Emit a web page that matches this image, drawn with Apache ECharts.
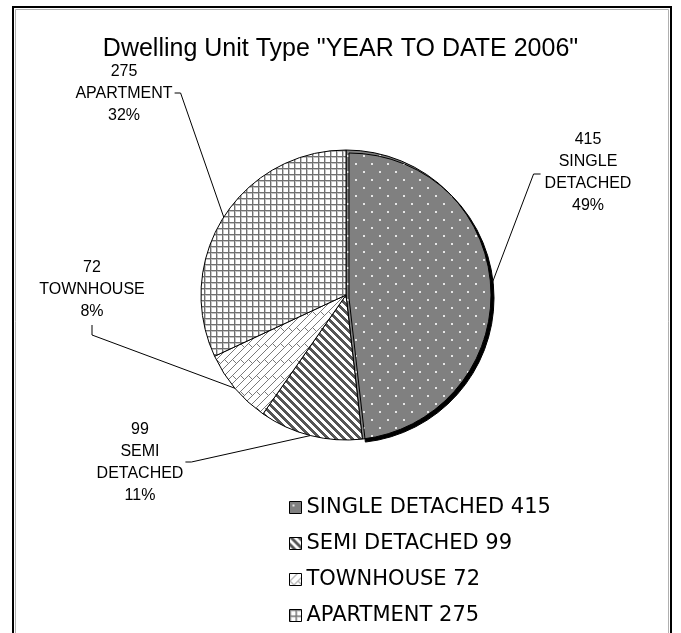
<!doctype html>
<html>
<head>
<meta charset="utf-8">
<title>Dwelling Unit Type</title>
<script src="https://cdn.jsdelivr.net/npm/echarts@6/dist/echarts.min.js"></script>
<style>
html,body{margin:0;padding:0;background:#fff;}
#chart{width:681px;height:633px;}
</style>
</head>
<body>
<div id="chart"></div>
<script type="text/javascript">
// data
var unitTypes = ['SINGLE DETACHED', 'SEMI DETACHED', 'TOWNHOUSE', 'APARTMENT'];
var unitCounts = [415, 99, 72, 275];
var pctLabels = ['49%', '11%', '8%', '32%'];

// where each outside label sits and which side the leader line hooks on
var labelPos = [[588, 173], [140, 463], [92, 290], [124, 94]];
var labelHook = ['left', 'right', 'below', 'right'];

function makeTile(size, draw){
	var c = document.createElement('canvas');
	c.width = size;
	c.height = size;
	var ctx = c.getContext('2d');
	draw(ctx, size);
	return c;
}

// fill patterns like the old excel hatches
var dotTile = makeTile(16, function(ctx){
	ctx.fillStyle = '#808080';
	ctx.fillRect(0, 0, 16, 16);
	ctx.fillStyle = '#e6e6e6';
	ctx.fillRect(3, 3, 2, 2);
	ctx.fillRect(11, 11, 2, 2);
});
var stripeTile = makeTile(8, function(ctx){
	ctx.fillStyle = '#fff';
	ctx.fillRect(0, 0, 8, 8);
	ctx.fillStyle = '#555';
	for(var y=0;y<8;y++){
		for(var k=0;k<4;k++){
			ctx.fillRect((y + k) % 8, y, 1, 1);
		}
	}
});
var brickTile = makeTile(16, function(ctx){
	ctx.fillStyle = '#fff';
	ctx.fillRect(0, 0, 16, 16);
	ctx.fillStyle = '#7a7a7a';
	for(var y=0;y<16;y++){
		ctx.fillRect(15 - y, y, 1, 1);
		ctx.fillRect((23 - y) % 16, y, 1, 1);
	}
	for(var k=0;k<5;k++){
		ctx.fillRect(8 + k, 7 + k, 1, 1);
		ctx.fillRect(0 + k, 7 + k, 1, 1);
	}
});
var gridTile = makeTile(6, function(ctx){
	ctx.fillStyle = '#fff';
	ctx.fillRect(0, 0, 6, 6);
	ctx.fillStyle = '#c4c4c4';
	ctx.fillRect(1, 0, 1, 6);
	ctx.fillRect(0, 1, 6, 1);
	ctx.fillStyle = '#707070';
	ctx.fillRect(0, 0, 1, 6);
	ctx.fillRect(0, 0, 6, 1);
});
var tiles = [dotTile, stripeTile, brickTile, gridTile];

var pieData = [];
for(var i=0;i<unitTypes.length;i++){
	var item = {
		name: unitTypes[i],
		value: unitCounts[i],
		itemStyle: {color: {image: tiles[i], repeat: 'repeat'}}
	};
	if(i == 0){
		// the dark rim on the right/bottom of the pie
		item.itemStyle.shadowColor = '#000';
		item.itemStyle.shadowBlur = 0;
		item.itemStyle.shadowOffsetX = 3;
		item.itemStyle.shadowOffsetY = 3;
	}
	pieData.push(item);
}

var chart = echarts.init(document.getElementById('chart'));
var option = {
	animation: false,
	backgroundColor: '#fff',
	title: {
		text: 'Dwelling Unit Type "YEAR TO DATE 2006"',
		left: 'center',
		top: 32,
		textStyle: {
			color: '#000',
			fontWeight: 'normal',
			fontSize: 25,
			fontFamily: 'Liberation Sans'
		}
	},
	legend: {
		orient: 'vertical',
		left: 284,
		top: 492,
		height: 170,
		icon: 'rect',
		itemWidth: 12,
		itemHeight: 12,
		itemGap: 15,
		itemStyle: {borderColor: '#000', borderWidth: 1},
		textStyle: {
			color: '#000',
			fontSize: 21,
			fontFamily: 'DejaVu Sans'
		},
		data: unitTypes,
		formatter: function(name){
			return name + ' ' + unitCounts[unitTypes.indexOf(name)];
		}
	},
	graphic: [
		{type: 'rect', silent: true, shape: {x: 13, y: 7, width: 658, height: 700}, style: {fill: 'none', stroke: '#000', lineWidth: 2}},
		{type: 'rect', silent: true, shape: {x: 15.5, y: 9.5, width: 653, height: 700}, style: {fill: 'none', stroke: '#b0b0b0', lineWidth: 1}}
	],
	series: [
		{
			type: 'pie',
			center: [346, 295],
			radius: 145,
			startAngle: 90,
			clockwise: true,
			avoidLabelOverlap: false,
			itemStyle: {borderColor: '#000', borderWidth: 1},
			label: {
				show: true,
				position: 'outside',
				color: '#000',
				fontSize: 16,
				lineHeight: 22,
				fontFamily: 'Liberation Sans',
				align: 'center',
				formatter: function(p){
					return p.value + '\n' + p.name.replace(' ', '\n') + '\n' + pctLabels[p.dataIndex];
				}
			},
			labelLine: {
				show: true,
				length: 10,
				length2: 10,
				lineStyle: {color: '#000', width: 1}
			},
			labelLayout: function(params){
				var i = params.dataIndex;
				var cx = labelPos[i][0], cy = labelPos[i][1];
				var w = params.labelRect.width, h = params.labelRect.height;
				var start = params.labelLinePoints ? params.labelLinePoints[0] : [346, 295];
				var end, bend;
				if(labelHook[i] == 'left'){
					end = [cx - w / 2 - 4, cy + 1];
					bend = [cx - w / 2 - 11, cy + 1];
				}else if(labelHook[i] == 'right'){
					end = [cx + w / 2 + 2, cy - 1];
					bend = [cx + w / 2 + 8, cy - 1];
				}else{
					end = [cx, cy + h / 2 + 2];
					bend = [cx, cy + h / 2 + 12];
				}
				return {
					x: cx,
					y: cy,
					align: 'center',
					verticalAlign: 'middle',
					labelLinePoints: [start, bend, end]
				};
			},
			data: pieData
		}
	]
};
chart.setOption(option);
</script>
</body>
</html>
